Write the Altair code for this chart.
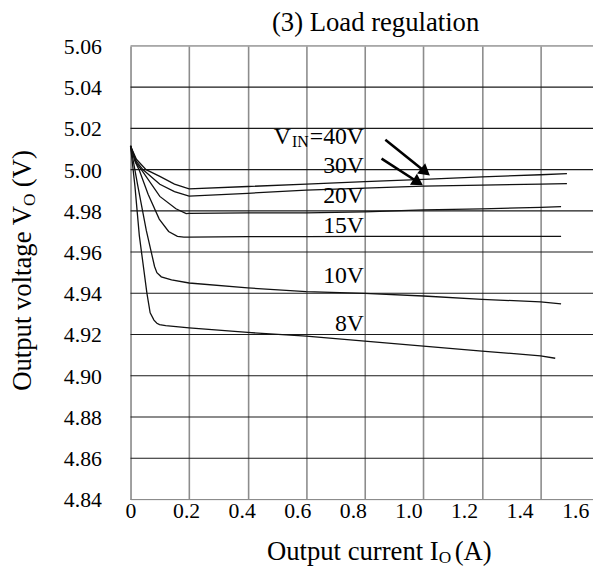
import altair as alt
import pandas as pd
import numpy as np

# ---------------- data ----------------
series = ["40V", "30V", "20V", "15V", "10V", "8V"]

i_40 = [0, 0.02, 0.053, 0.1, 0.15, 0.2, 0.4, 0.6, 0.8, 1.0, 1.2, 1.4, 1.49]
v_40 = [5.0115, 5.005, 5.000, 4.9967, 4.9930, 4.9907, 4.9918, 4.9930, 4.9942, 4.9953, 4.9965, 4.9975, 4.9980]

i_30 = [0, 0.02, 0.042, 0.1, 0.15, 0.2, 0.4, 0.6, 0.8, 1.0, 1.2, 1.4, 1.49]
v_30 = [5.0115, 5.004, 5.000, 4.9929, 4.9893, 4.9871, 4.9885, 4.9900, 4.9910, 4.9920, 4.9925, 4.9930, 4.9932]

i_20 = [0, 0.02, 0.037, 0.1, 0.155, 0.19, 0.2, 0.4, 0.6, 0.8, 1.0, 1.2, 1.4, 1.47]
v_20 = [5.0115, 5.003, 5.000, 4.9870, 4.9810, 4.9787, 4.9788, 4.9790, 4.9790, 4.9795, 4.9805, 4.9810, 4.9817, 4.9820]

i_15 = [0, 0.015, 0.029, 0.06, 0.098, 0.13, 0.16, 0.182, 0.2, 0.4, 0.6, 0.8, 1.0, 1.2, 1.4, 1.47]
v_15 = [5.0115, 5.004, 5.000, 4.9880, 4.9760, 4.9700, 4.9676, 4.9672, 4.9673, 4.9675, 4.9675, 4.9676, 4.9676, 4.9676, 4.9676, 4.9676]

i_10 = [0, 0.025, 0.054, 0.082, 0.09, 0.105, 0.14, 0.2, 0.4, 0.6, 0.8, 1.0, 1.2, 1.4, 1.47]
v_10 = [5.0115, 4.9920, 4.9704, 4.9530, 4.9500, 4.9480, 4.9465, 4.9450, 4.9426, 4.9408, 4.9400, 4.9387, 4.9371, 4.9358, 4.9349]

i_8 = [0, 0.015, 0.03, 0.056, 0.067, 0.08, 0.09, 0.099, 0.12, 0.2, 0.4, 0.6, 0.8, 1.0, 1.2, 1.4, 1.45]
v_8 = [5.0115, 4.9920, 4.9680, 4.9400, 4.9305, 4.9270, 4.9255, 4.9248, 4.9243, 4.9232, 4.9210, 4.9192, 4.9168, 4.9144, 4.9120, 4.9096, 4.9085]

x_grid = [0, 0.2, 0.4, 0.6, 0.8, 1.0, 1.2, 1.4]
x_ticks = [0, 0.2, 0.4, 0.6, 0.8, 1.0, 1.2, 1.4, 1.6]
y_ticks = [5.06, 5.04, 5.02, 5.00, 4.98, 4.96, 4.94, 4.92, 4.90, 4.88, 4.86, 4.84]
y_tick_labels = ["5.06", "5.04", "5.02", "5.00", "4.98", "4.96", "4.94", "4.92", "4.90", "4.88", "4.86", "4.84"]

label_text = ["=40V", "30V", "20V", "15V", "10V", "8V"]
label_v = [5.0125, 4.9982, 4.9838, 4.9694, 4.9450, 4.9215]
label_i = 0.797

arrow_i0 = [0.870, 0.857]
arrow_v0 = [5.0145, 5.0053]
arrow_i1 = [1.022, 0.998]
arrow_v1 = [4.9972, 4.9924]

# ---------------- layout ----------------
W, H = 468, 459
X_MAX = 1.579           # grid scale
X_MAX_LBL = 1.664       # tick label scale
Y_MIN, Y_MAX = 4.84, 5.06
FONT = "Liberation Serif"
ppx = W / X_MAX
ppy = H / (Y_MAX - Y_MIN)

curves = {"40V": (i_40, v_40), "30V": (i_30, v_30), "20V": (i_20, v_20),
          "15V": (i_15, v_15), "10V": (i_10, v_10), "8V": (i_8, v_8)}
rows = []
for s in series:
    ii, vv = curves[s]
    for a, b in zip(ii, vv):
        rows.append({"series": s, "I": a, "V": b})
df = pd.DataFrame(rows)

xs = alt.Scale(domain=[0, X_MAX], nice=False, zero=False)
ys = alt.Scale(domain=[Y_MIN, Y_MAX], nice=False, zero=False)

# horizontal grid + y labels
ygrid_df = pd.DataFrame({"V": y_ticks})
ygrid = alt.Chart(ygrid_df).mark_rule(strokeWidth=1.1).encode(
    y=alt.Y("V:Q", scale=ys, axis=None),
    color=alt.condition((alt.datum.V > 5.055) | (alt.datum.V < 4.845), alt.value("#8c8c8c"), alt.value("#1a1a1a")),
)
ylab_df = pd.DataFrame({"I": [0.0] * len(y_ticks), "V": y_ticks, "lab": y_tick_labels})
ylabels = alt.Chart(ylab_df).mark_text(
    font=FONT, fontSize=22, align="right", baseline="middle", color="black", dx=-29, dy=1).encode(
    x=alt.X("I:Q", scale=xs, axis=None), y=alt.Y("V:Q", scale=ys, axis=None), text="lab:N")

lines = alt.Chart(df).mark_line(color="#111", strokeWidth=1.3).encode(
    x=alt.X("I:Q", scale=xs, axis=alt.Axis(values=x_grid, grid=True, gridColor="#8c8c8c", gridWidth=1.6,
                                            labels=False, ticks=False, domain=False, title=None, orient="bottom")),
    y=alt.Y("V:Q", scale=ys, axis=None),
    detail="series:N",
)

# tick labels (independent scale, slightly different spacing than the grid)
tick_df = pd.DataFrame({"I": x_ticks})
tick_layer = alt.Chart(tick_df).mark_point(opacity=0).encode(
    x=alt.X("I:Q", scale=alt.Scale(domain=[0, X_MAX_LBL], nice=False, zero=False),
            axis=alt.Axis(values=x_ticks, grid=False, ticks=False, domain=False, title=None, orient="bottom",
                          labelExpr="datum.value == 0 ? '0' : format(datum.value, '.1f')",
                          labelFont=FONT, labelFontSize=22, labelColor="black", labelPadding=1,
                          labelFlush=False, labelOverlap=False)),
)

# series labels
lab_df = pd.DataFrame({"text": label_text, "I": [label_i] * len(label_text), "V": label_v})
labels = alt.Chart(lab_df).mark_text(font=FONT, fontSize=24, align="right", baseline="alphabetic",
                                     color="black").encode(
    x=alt.X("I:Q", scale=xs, axis=None), y=alt.Y("V:Q", scale=ys, axis=None), text="text:N")

vin_df = pd.DataFrame({"I": [label_i], "V": [label_v[0]]})
vin_sub = alt.Chart(vin_df).mark_text(text="IN", font=FONT, fontSize=16, align="right", baseline="alphabetic",
                                      dx=-56, dy=3, color="black").encode(
    x=alt.X("I:Q", scale=xs, axis=None), y=alt.Y("V:Q", scale=ys, axis=None))
vin_v = alt.Chart(vin_df).mark_text(text="V", font=FONT, fontSize=24, align="right", baseline="alphabetic",
                                    dx=-74, color="black").encode(
    x=alt.X("I:Q", scale=xs, axis=None), y=alt.Y("V:Q", scale=ys, axis=None))

# arrows
arr = pd.DataFrame({"i0": arrow_i0, "v0": arrow_v0, "i1": arrow_i1, "v1": arrow_v1})
dxp = (arr["i1"] - arr["i0"]) * ppx
dyp = -(arr["v1"] - arr["v0"]) * ppy
ln = np.hypot(dxp, dyp)
ux, uy = dxp / ln, dyp / ln
HEAD = 170
h = np.sqrt(3) * (np.sqrt(HEAD) / 2) / 2
arr["ic"] = arr["i1"] - h * ux / ppx
arr["vc"] = arr["v1"] + h * uy / ppy
arr["ang"] = np.degrees(np.arctan2(ux, -uy))

shafts = alt.Chart(arr).mark_rule(color="black", strokeWidth=2.6).encode(
    x=alt.X("i0:Q", scale=xs, axis=None), y=alt.Y("v0:Q", scale=ys, axis=None),
    x2="ic:Q", y2="vc:Q")
heads = alt.Chart(arr).mark_point(shape="triangle-up", filled=True, size=HEAD, color="black", opacity=1).encode(
    x=alt.X("ic:Q", scale=xs, axis=None), y=alt.Y("vc:Q", scale=ys, axis=None),
    angle=alt.Angle("ang:Q", scale=None))

# titles as text (with subscripts)
one = pd.DataFrame({"k": [0]})


def txt(s, x, y, size, angle=0, align="left"):
    return alt.Chart(one).mark_text(text=s, font=FONT, fontSize=size, align=align, baseline="alphabetic",
                                    angle=angle, color="black").encode(x=alt.value(x), y=alt.value(y))


title = txt("(3) Load regulation", 248, -15, 27, align="center")
xt1 = txt("Output current I", 138, 520, 27)
xt2 = txt("O", 312, 523, 17.5)
xt3 = txt("(A)", 328, 520, 27)
yt1 = txt("Output voltage V", -101, 349, 27, angle=270)
yt2 = txt("O", -97, 162, 17.5, angle=270)
yt3 = txt("(V)", -101, 143, 27, angle=270)

chart = alt.layer(ygrid, ylabels, lines, tick_layer, labels, vin_sub, vin_v, shafts, heads,
                  title, xt1, xt2, xt3, yt1, yt2, yt3).resolve_scale(x="independent").properties(
    width=W, height=H,
    autosize=alt.AutoSizeParams(type="none"),
    padding={"left": 124, "top": 35, "right": 0, "bottom": 67},
).configure_view(stroke=None).configure(background="white", font=FONT)

chart.save("out.html", embed_options={"renderer": "svg", "actions": False})
